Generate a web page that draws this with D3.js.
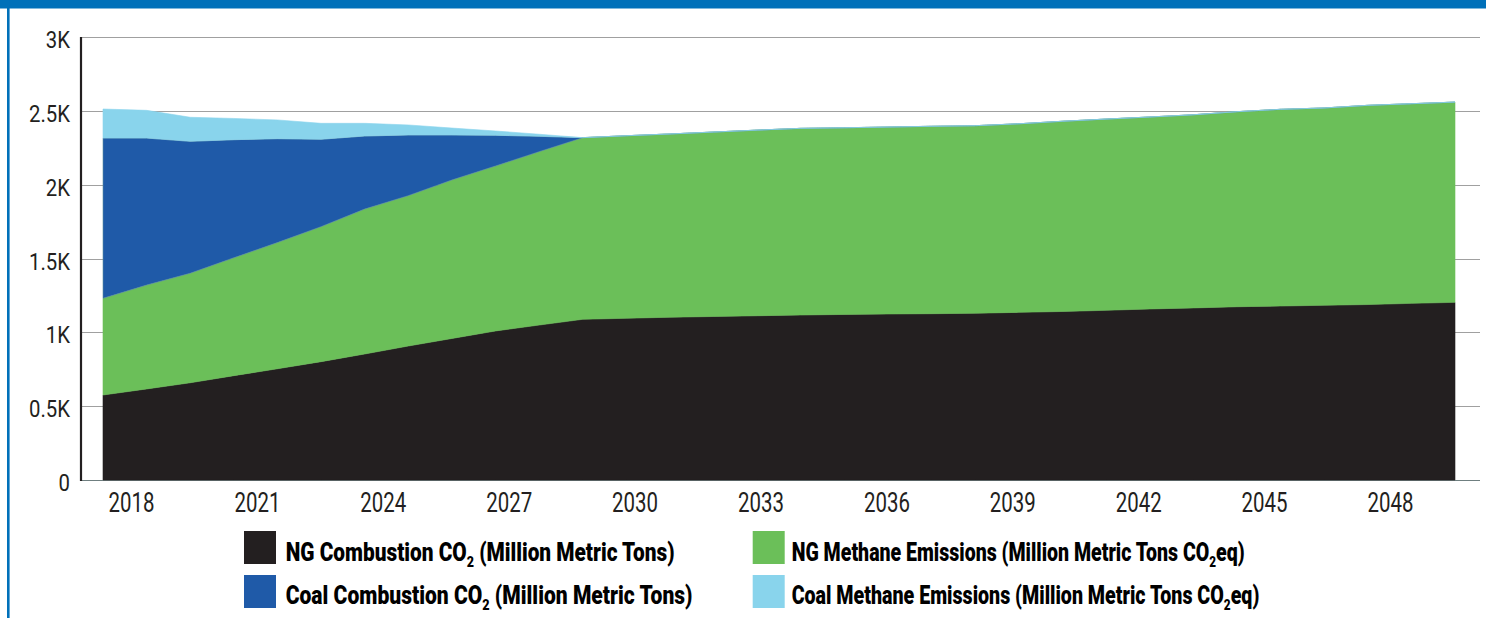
<!DOCTYPE html>
<html><head><meta charset="utf-8">
<script src="https://cdn.jsdelivr.net/npm/d3@7"></script>
<style>body{margin:0;background:#fff}svg{display:block}</style>
</head><body>
<svg id="c" width="1486" height="618"></svg>
<script>
// ---------- data ----------
const years = [2018,2019,2020,2021,2022,2023,2024,2025,2026,2027,2028,2029,2030,2031,2032,2033,
               2034,2035,2036,2037,2038,2039,2040,2041,2042,2043,2044,2045,2046,2047,2048,2049];
const ngCombustion   = [576,617,659,707,754,802,854,908,959,1010,1050,1089,1096,1103,1108,1113,
                        1118,1122,1125,1127,1130,1136,1142,1150,1159,1166,1174,1179,1184,1189,1197,1204];
const ngMethane      = [655,704,742,799,855,915,982,1019,1074,1118,1175,1231,1237,1242,1250,1258,
                        1265,1265,1267,1270,1271,1278,1289,1296,1301,1309,1322,1333,1337,1350,1353,1357];
const coalCombustion = [1086,996,894,800,704,592,495,411,305,208,104,0,0,0,0,0,
                        0,0,0,0,0,0,0,0,0,0,0,0,0,0,0,0];
const coalMethane    = [197,188,163,144,127,108,86,68,47,29,14,0,0,0,0,0,
                        0,0,0,0,0,0,0,0,0,0,0,0,0,0,0,0];
const seriesKeys = ["ngCombustion","ngMethane","coalCombustion","coalMethane"];
const xTickValues = [2018,2021,2024,2027,2030,2033,2036,2039,2042,2045,2048];
const xTickLabels = ["2018","2021","2024","2027","2030","2033","2036","2039","2042","2045","2048"];
const yTickValues = [0,500,1000,1500,2000,2500,3000];
const yTickLabels = ["0","0.5K","1K","1.5K","2K","2.5K","3K"];
// legend: [main text, subscript, tail]
const legendItems = [
  {key:"ngCombustion",   parts:["NG Combustion CO","2"," (Million Metric Tons)"]},
  {key:"coalCombustion", parts:["Coal Combustion CO","2"," (Million Metric Tons)"]},
  {key:"ngMethane",      parts:["NG Methane Emissions (Million Metric Tons CO","2","eq)"]},
  {key:"coalMethane",    parts:["Coal Methane Emissions (Million Metric Tons CO","2","eq)"]}
];

// ---------- style ----------
const colors = {ngCombustion:"#231f20", ngMethane:"#6bbf59", coalCombustion:"#1f5aa8", coalMethane:"#89d4ec"};
const frameBlue = "#0070b9";
const textColor = "#231f20";

const svg = d3.select("#c");

// frame
svg.append("rect").attr("x",0).attr("y",0).attr("width",1486).attr("height",8.5).attr("fill",frameBlue);
svg.append("rect").attr("x",7).attr("y",0).attr("width",2.6).attr("height",618).attr("fill",frameBlue);

// scales
const x = d3.scaleLinear().domain([years[0], years[years.length-1]]).range([103,1455]);
const xLab = d3.scaleLinear().domain([2018,2048]).range([131,1390]);
const y = d3.scaleLinear().domain([0,3000]).range([480,37.3]);

// gridlines
svg.append("g").selectAll("line").data(yTickValues).join("line")
  .attr("x1",81).attr("x2",1480)
  .attr("y1",d=>Math.round(y(d))+0.5).attr("y2",d=>Math.round(y(d))+0.5)
  .attr("stroke",d=>d===0?"#6f7f80":"#a0a0a0").attr("stroke-width",1.2);

// stacked areas
const rows = years.map((yr,i)=>({year:yr, ngCombustion:ngCombustion[i], ngMethane:ngMethane[i],
  coalCombustion:coalCombustion[i], coalMethane:coalMethane[i]}));
const stack = d3.stack().keys(seriesKeys)(rows);
const area = d3.area().x(d=>x(d.data.year)).y0(d=>y(d[0])).y1(d=>y(d[1])).curve(d3.curveLinear);
svg.append("g").selectAll("path").data(stack).join("path")
  .attr("d",area).attr("fill",d=>colors[d.key])
  .attr("stroke",d=>d.key==="coalCombustion"?"#5c8fa0":colors[d.key]).attr("stroke-width",0.6);

// y axis line
svg.append("line").attr("x1",81).attr("x2",81).attr("y1",37).attr("y2",481)
  .attr("stroke",textColor).attr("stroke-width",2.2);

// y axis labels
const yAxis = svg.append("g").attr("transform","translate(81,0)")
  .call(d3.axisLeft(y).tickValues(yTickValues).tickFormat((d,i)=>yTickLabels[i]).tickSize(0).tickPadding(0));
yAxis.select(".domain").remove();
yAxis.selectAll("text").attr("x",0).attr("dy","0.45em")
  .attr("font-family","Roboto, 'Liberation Sans', sans-serif").attr("font-size",23).attr("fill",textColor);
{
  let ratio = 1;
  yAxis.selectAll("text").each(function(d,i){ if(yTickLabels[i]==="2.5K") ratio = 41/this.getComputedTextLength(); });
  yAxis.selectAll("text").attr("transform",`translate(-11,0) scale(${ratio},1)`);
}

// x axis labels
const xAxis = svg.append("g").attr("transform","translate(0,480)")
  .call(d3.axisBottom(xLab).tickValues(xTickValues).tickFormat((d,i)=>xTickLabels[i]).tickSize(0).tickPadding(12));
xAxis.select(".domain").remove();
xAxis.selectAll("text").attr("font-family","Roboto, 'Liberation Sans', sans-serif").attr("font-size",28).attr("fill",textColor);
{
  let ratio = 1;
  xAxis.selectAll("text").each(function(d,i){ if(i===0) ratio = 46/this.getComputedTextLength(); });
  xAxis.selectAll("text").attr("transform",`scale(${ratio},1)`);
}

// legend
const legendPos = [
  {sx:244, tx:285.7, sy:531, ty:561, w:389},
  {sx:244, tx:285.7, sy:575, ty:603.5, w:407},
  {sx:752.7, tx:791.7, sy:531, ty:561, w:453},
  {sx:752.7, tx:791.7, sy:575, ty:603.5, w:468}
];
const lg = svg.append("g");
legendItems.forEach((it,i)=>{
  const p = legendPos[i];
  lg.append("rect").attr("x",p.sx).attr("y",p.sy).attr("width",32).attr("height",33).attr("fill",colors[it.key]);
  const t = lg.append("text").attr("x",0).attr("y",0)
    .attr("font-family","Roboto, 'Liberation Sans', sans-serif").attr("font-weight",900)
    .attr("font-size",25).attr("fill","#000");
  t.append("tspan").text(it.parts[0]);
  t.append("tspan").attr("font-size",15).attr("dy",6).text(it.parts[1]);
  t.append("tspan").attr("dy",-6).text(it.parts[2]);
  const w = t.node().getComputedTextLength();
  t.attr("transform",`translate(${p.tx},${p.ty}) scale(${p.w/w},1)`);
});
</script>
</body></html>
